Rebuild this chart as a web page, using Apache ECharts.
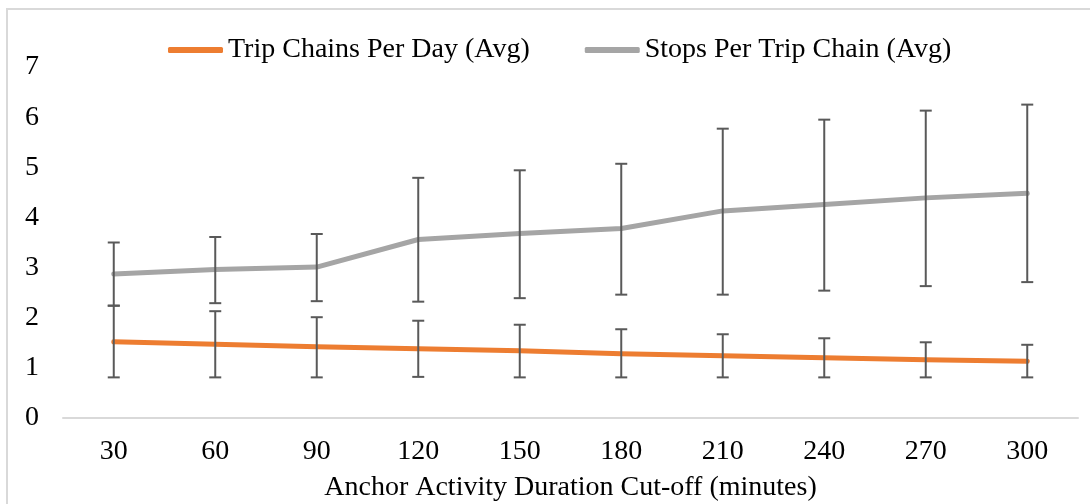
<!DOCTYPE html>
<html>
<head>
<meta charset="utf-8">
<script src="https://cdn.jsdelivr.net/npm/echarts@6/dist/echarts.min.js"></script>
<style>
  html, body { margin: 0; padding: 0; background: #fff; }
  #chart { width: 1090px; height: 504px; }
</style>
</head>
<body>
<div id="chart"></div>
<script>
// x categories: anchor activity duration cut-off (minutes)
const categories = ['30', '60', '90', '120', '150', '180', '210', '240', '270', '300']

// Trip Chains Per Day (Avg) with error bar ends
const tripChains = [1.52, 1.47, 1.42, 1.38, 1.34, 1.28, 1.24, 1.20, 1.16, 1.13]
const tripLow = [0.81, 0.81, 0.81, 0.82, 0.81, 0.81, 0.81, 0.81, 0.81, 0.81]
const tripHigh = [2.24, 2.13, 2.01, 1.94, 1.86, 1.77, 1.67, 1.59, 1.51, 1.46]

// Stops Per Trip Chain (Avg) with error bar ends
const stops = [2.87, 2.96, 3.01, 3.56, 3.68, 3.78, 4.13, 4.26, 4.39, 4.48]
const stopsLow = [2.24, 2.29, 2.33, 2.32, 2.39, 2.46, 2.46, 2.54, 2.63, 2.71]
const stopsHigh = [3.50, 3.61, 3.67, 4.79, 4.94, 5.07, 5.77, 5.95, 6.13, 6.25]

const FONT = '"Liberation Serif", "Times New Roman", serif'

function errorBars(low, high) {
  return low.map((v, i) => [i, v, high[i]])
}

function renderError(params, api) {
  const x = api.value(0)
  const lo = api.coord([x, api.value(1)])
  const hi = api.coord([x, api.value(2)])
  const half = 6
  const style = { stroke: '#595959', lineWidth: 2 }
  return {
    type: 'group',
    children: [
      { type: 'line', shape: { x1: lo[0], y1: lo[1], x2: hi[0], y2: hi[1] }, style },
      { type: 'line', shape: { x1: hi[0] - half, y1: hi[1], x2: hi[0] + half, y2: hi[1] }, style },
      { type: 'line', shape: { x1: lo[0] - half, y1: lo[1], x2: lo[0] + half, y2: lo[1] }, style }
    ]
  }
}

const chart = echarts.init(document.getElementById('chart'))
chart.setOption({
  animation: false,
  backgroundColor: '#fff',
  textStyle: { fontFamily: FONT },
  graphic: [
    {
      type: 'rect',
      shape: { x: 7, y: 9, width: 1200, height: 600 },
      style: { fill: 'none', stroke: '#d9d9d9', lineWidth: 2 },
      silent: true
    }
  ],
  legend: {
    left: 163,
    top: 31,
    itemWidth: 55,
    itemHeight: 6,
    itemGap: 55,
    icon: 'roundRect',
    textStyle: { fontFamily: FONT, fontSize: 28, color: '#000' },
    data: ['Trip Chains Per Day (Avg)', 'Stops Per Trip Chain (Avg)']
  },
  grid: {
    left: 63,
    right: 12,
    top: 67,
    bottom: 86,
    containLabel: false,
    outerBoundsMode: 'none'
  },
  xAxis: {
    type: 'category',
    data: categories,
    boundaryGap: true,
    axisLine: { lineStyle: { color: '#d9d9d9', width: 2 } },
    axisTick: { show: false },
    axisLabel: { color: '#000', fontFamily: FONT, fontSize: 28, margin: 20 },
    name: 'Anchor Activity Duration Cut-off (minutes)',
    nameLocation: 'middle',
    nameGap: 56,
    nameTextStyle: { color: '#000', fontFamily: FONT, fontSize: 28 }
  },
  yAxis: {
    type: 'value',
    min: 0,
    max: 7,
    interval: 1,
    splitLine: { show: false },
    axisLine: { show: false },
    axisTick: { show: false },
    axisLabel: { color: '#000', fontFamily: FONT, fontSize: 28, margin: 24 }
  },
  series: [
    {
      name: 'Trip Chains Per Day (Avg)',
      type: 'line',
      data: tripChains,
      color: '#ED7D31',
      symbol: 'none',
      lineStyle: { color: '#ED7D31', width: 5, cap: 'round', join: 'round' },
      z: 2
    },
    {
      name: 'Stops Per Trip Chain (Avg)',
      type: 'line',
      data: stops,
      color: '#A5A5A5',
      symbol: 'none',
      lineStyle: { color: '#A5A5A5', width: 5, cap: 'round', join: 'round' },
      z: 2
    },
    {
      type: 'custom',
      renderItem: renderError,
      data: errorBars(tripLow, tripHigh),
      encode: { x: 0, y: [1, 2] },
      z: 3,
      silent: true
    },
    {
      type: 'custom',
      renderItem: renderError,
      data: errorBars(stopsLow, stopsHigh),
      encode: { x: 0, y: [1, 2] },
      z: 3,
      silent: true
    }
  ]
})
</script>
</body>
</html>
